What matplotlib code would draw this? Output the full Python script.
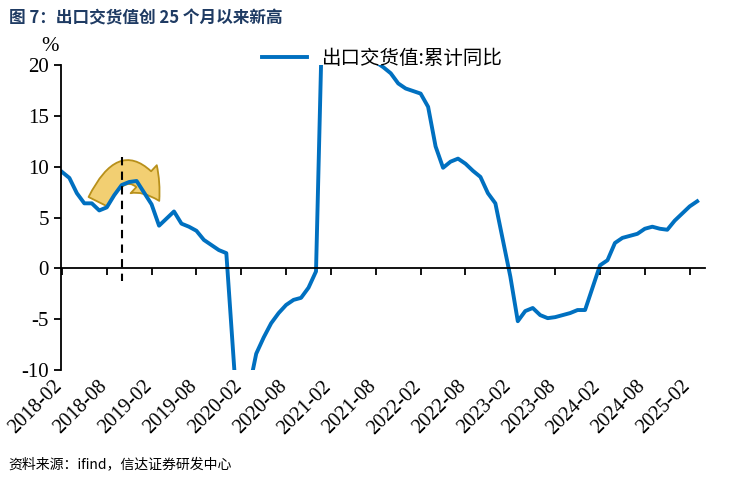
import matplotlib
matplotlib.use("Agg")
import matplotlib.pyplot as plt
from matplotlib.patches import FancyArrowPatch

months = ["2018-02","2018-03","2018-04","2018-05","2018-06","2018-07","2018-08","2018-09","2018-10","2018-11","2018-12",
          "2019-02","2019-03","2019-04","2019-05","2019-06","2019-07","2019-08","2019-09","2019-10","2019-11","2019-12",
          "2020-02","2020-03","2020-04","2020-05","2020-06","2020-07","2020-08","2020-09","2020-10","2020-11","2020-12",
          "2021-02","2021-03","2021-04","2021-05","2021-06","2021-07","2021-08","2021-09","2021-10","2021-11","2021-12",
          "2022-02","2022-03","2022-04","2022-05","2022-06","2022-07","2022-08","2022-09","2022-10","2022-11","2022-12",
          "2023-02","2023-03","2023-04","2023-05","2023-06","2023-07","2023-08","2023-09","2023-10","2023-11","2023-12",
          "2024-02","2024-03","2024-04","2024-05","2024-06","2024-07","2024-08","2024-09","2024-10","2024-11","2024-12",
          "2025-02","2025-03"]
values = [9.5,8.9,7.4,6.4,6.4,5.7,6.0,7.2,8.2,8.5,8.6,
          6.3,4.2,4.9,5.6,4.4,4.1,3.7,2.8,2.3,1.8,1.5,
          -19.9,-12.0,-8.4,-6.8,-5.4,-4.4,-3.6,-3.1,-2.9,-1.9,-0.3,
          60.0,45.0,35.0,29.0,24.0,21.5,20.3,19.8,19.2,18.2,17.7,
          17.2,15.9,12.0,9.9,10.5,10.8,10.3,9.6,9.0,7.4,6.4,
          -0.8,-5.2,-4.2,-3.9,-4.6,-4.9,-4.8,-4.6,-4.4,-4.1,-4.1,
          0.3,0.8,2.5,3.0,3.2,3.4,3.9,4.1,3.9,3.8,4.7,
          6.1,6.6]
tick_labels = ["2018-02","2018-08","2019-02","2019-08","2020-02","2020-08","2021-02","2021-08",
               "2022-02","2022-08","2023-02","2023-08","2024-02","2024-08","2025-02"]
yticks = [-10,-5,0,5,10,15,20]
series_name = "出口交货值:累计同比"
highlight_month = "2018-10"

def idx(m):
    y, mo = m.split("-")
    return (int(y)-2018)*12 + int(mo) - 2

xs = [idx(m) for m in months]

fig = plt.figure(figsize=(7.34, 4.79), dpi=100)
ax = fig.add_axes([0.083, 0.2276, 0.877, 0.6364])
ax.plot(xs, values, color="#0070C0", lw=2.8, label=series_name, solid_joinstyle="round")
ax.set_ylim(-10, 20)
ax.set_xlim(-0.13, 86)
for s in ["top","right"]:
    ax.spines[s].set_visible(False)
ax.spines["bottom"].set_position(("data", 0))
ax.spines["left"].set_linewidth(1.3)
ax.spines["bottom"].set_linewidth(1.3)
ax.set_yticks(yticks)
ax.set_yticklabels([str(v) for v in yticks], fontfamily="Liberation Serif", fontsize=15)
ax.set_xticks([idx(m) for m in tick_labels])
ax.set_xticklabels([])
ax.tick_params(axis="x", direction="out", length=5, width=1.3)
ax.tick_params(axis="y", direction="out", length=5, width=1.3)
for m in tick_labels:
    ax.text(idx(m)+0.6, -10.7, m, rotation=45, ha="right", va="top",
            fontfamily="Liberation Serif", fontsize=14.5, transform=ax.transData)

hx = idx(highlight_month)
ax.plot([hx, hx], [11.0, -1.2], ls=(0,(4,3)), color="black", lw=1.5, clip_on=False)
arrow = FancyArrowPatch((hx-3.3, 6.3), (hx+5.2, 6.4), connectionstyle="arc3,rad=-1.0",
                        arrowstyle="simple,head_width=2.3,head_length=1.6,tail_width=1.3",
                        mutation_scale=12, facecolor="#F2CF72", edgecolor="#B8901A", lw=1.3)
ax.add_patch(arrow)

ax.text(-1.6, 21.4, "%", fontfamily="Liberation Serif", fontsize=15, ha="center")
leg = ax.legend(loc="upper center", bbox_to_anchor=(0.5, 1.115), frameon=False,
                prop={"family": "Noto Sans CJK SC", "size": 14}, handlelength=2.3)
fig.text(0.012, 0.962, "图 7：出口交货值创 25 个月以来新高", fontfamily="Noto Sans CJK SC",
         fontsize=12, fontweight="bold", color="#1F3B63", va="center")
fig.text(0.012, 0.03, "资料来源：ifind，信达证券研发中心", fontfamily="Noto Sans CJK SC",
         fontsize=10, style="italic", va="center")
fig.savefig("out.png", dpi=100)
